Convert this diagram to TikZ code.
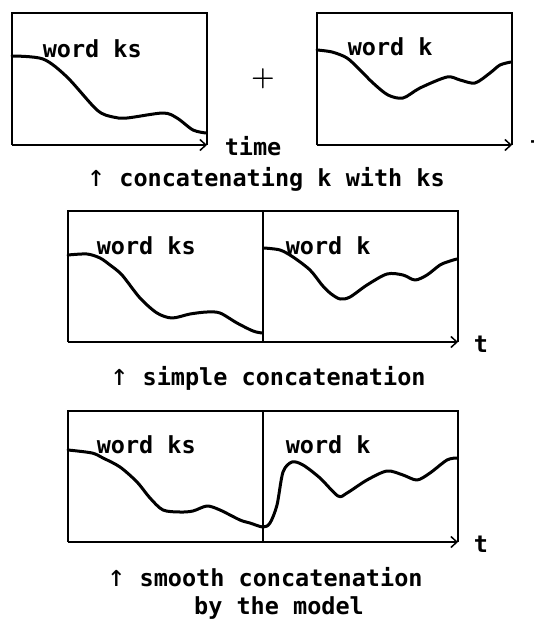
\documentclass[tikz,border=0pt]{standalone}
\usepackage{fontspec}
\newfontfamily\wavefont{DejaVu Sans Mono}
\usetikzlibrary{arrows.meta}

\newcommand{\uparr}{{\mdseries\fontsize{30}{30}\selectfont ↑}}

\begin{document}
\begin{tikzpicture}[x=1pt, y=-1pt, >={Straight Barb[length=6pt, width=11pt]}, line width=1.5pt,
  lbl/.style={font=\wavefont\bfseries\fontsize{23.5}{27}\selectfont, inner sep=0pt, anchor=base west},
  captxt/.style={font=\wavefont\bfseries\fontsize{23.5}{27}\selectfont, inner sep=0pt, anchor=base},
  wave/.style={line width=3pt, line join=round, line cap=round}]

\useasboundingbox (0,0) rectangle (534,621);

% ========== Top: the two words apart ==========
% word ks
\draw (12,145) -- (12,13) -- (207,13) -- (207,145);
\draw[->] (12,145) -- (207,145);
\draw[wave] plot[smooth] coordinates {(12,56) (43,59) (67,77) (97,110) (113,117) (127,118)
  (163,113) (177,118) (193,130) (206,133)};
\node[lbl] (ks1) at (42,57) {word ks};
\node[lbl] (time) at (224,155) {time};

% plus sign
\node[font=\bfseries\fontsize{27}{30}\selectfont, inner sep=0pt] (plus) at (263,79) {+};

% word k
\draw (317,145) -- (317,13) -- (512,13) -- (512,145);
\draw[->] (317,145) -- (512,145);
\draw[wave] plot[smooth] coordinates {(317,50) (332,52) (347,58) (360,70) (373,83) (388,95)
  (403,98) (420,88) (447,77) (460,80) (475,83) (490,73) (500,65) (511,62)};
\node[lbl] (k1) at (347,55) {word k};
\node[lbl] (t1) at (529,153) {t};

\node[captxt] (cat) at (266,186) {\uparr\ concatenating k with ks};

% ========== Middle: simple concatenation ==========
\draw (68,342) -- (68,211) -- (458,211) -- (458,342);
\draw (263,211) -- (263,342);
\draw[->] (68,342) -- (458,342);
\draw[wave] plot[smooth] coordinates {(68,255) (87,254) (100,258) (110,265) (122,275) (140,298)
  (157,313) (172,318) (190,314) (207,312) (220,313) (237,323) (253,331) (262,333)};
\draw[wave] plot[smooth] coordinates {(264,248) (280,250) (293,257) (310,270) (322,285) (330,293)
  (340,299) (350,297) (367,285) (387,274) (403,275) (415,280) (427,275) (440,265) (450,261) (457,259)};
\node[lbl] (ks2) at (96,254) {word ks};
\node[lbl] (k2) at (285,254) {word k};
\node[lbl] (t2) at (473,352) {t};

\node[captxt] (simple) at (268,385) {\uparr\ simple concatenation};

% ========== Bottom: smooth concatenation ==========
\draw (68,542) -- (68,411) -- (458,411) -- (458,542);
\draw (263,411) -- (263,542);
\draw[->] (68,542) -- (458,542);
\draw[wave] plot[smooth] coordinates {(68,450) (92,453) (103,458) (120,467) (137,482) (150,498)
  (163,510) (180,512) (193,511) (207,506) (220,510) (240,520) (250,523) (263,527) (270,523)
  (277,505) (283,472) (292,462) (303,465) (320,478) (338,496) (347,493) (367,480) (387,471)
  (403,475) (417,480) (430,473) (447,460) (457,458)};
\node[lbl] (ks3) at (96,453) {word ks};
\node[lbl] (k3) at (285,453) {word k};
\node[lbl] (t3) at (473,552) {t};

\node[captxt] (smooth) at (265,586) {\uparr\ smooth concatenation};
\node[captxt] (model) at (279,614) {by the model};

\end{tikzpicture}
\end{document}
